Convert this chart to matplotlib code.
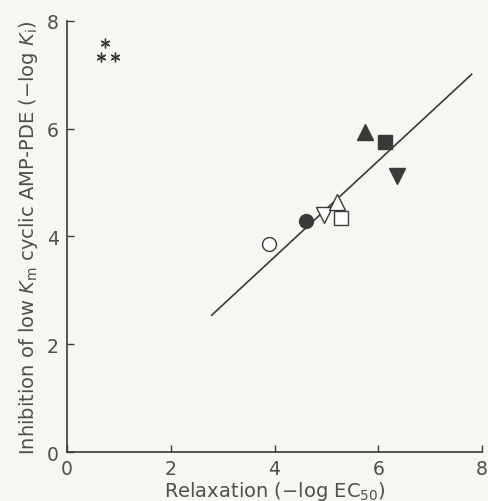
import matplotlib
matplotlib.use('Agg')
import matplotlib.pyplot as plt

plt.rcParams['font.family'] = ['DejaVu Sans']
plt.rcParams['mathtext.fontset'] = 'dejavusans'

# compuestos: relajacion (-log EC50) vs inhibicion PDE (-log Ki)
relajacion = [3.89, 4.61, 4.95, 5.28, 5.20, 5.74, 6.13, 6.36]
inhibicion = [3.86, 4.28, 4.40, 4.34, 4.64, 5.94, 5.75, 5.12]
marcadores = ['o', 'o', 'v', 's', '^', '^', 's', 'v']
rellenos = [False, True, False, False, False, True, True, True]

# asteriscos arriba a la izquierda (fuera de escala)
ast_x = [0.73, 0.65, 0.92]
ast_y = [7.60, 7.33, 7.33]

# recta de regresion
recta_x = [2.79, 7.80]
recta_y = [2.54, 7.01]

gris = '#3a3a3a'
texto = '#4e4e4e'
fondo = '#f7f7f2'

fig = plt.figure(figsize=(4.88, 5.02), dpi=100, facecolor=fondo)
ax = fig.add_axes([0.1373, 0.0976, 0.8504, 0.8586])
ax.set_facecolor(fondo)

ax.plot(recta_x, recta_y, color=gris, lw=1.2, zorder=2)

for x, y, m, r in zip(relajacion, inhibicion, marcadores, rellenos):
    ms = 11 if m in ('^', 'v') else 10
    ax.plot(x, y, marker=m, ms=ms, mfc=gris if r else 'white',
            mec=gris, mew=1.0, ls='none', zorder=3)

ax.plot(ast_x, ast_y, marker=(6, 2, 0), ms=7, mew=1.0, color=gris, ls='none')

ax.set_xlim(0, 8)
ax.set_ylim(0, 8)
ax.set_xticks([0, 2, 4, 6, 8])
ax.set_yticks([0, 2, 4, 6, 8])
ax.tick_params(direction='in', length=5, width=1, colors=gris,
               labelcolor=texto, labelsize=13.5)
ax.tick_params(axis='x', pad=5)
ax.tick_params(axis='y', pad=6)

for lado in ['top', 'right']:
    ax.spines[lado].set_visible(False)
for lado in ['left', 'bottom']:
    ax.spines[lado].set_color(gris)
    ax.spines[lado].set_linewidth(1.2)

ax.set_xlabel('Relaxation ($-$log EC$_{50}$)', fontsize=14, color=texto, labelpad=1)
ax.set_ylabel('Inhibition of low $K_{\\mathrm{m}}$ cyclic AMP-PDE ($-$log $K_{\\mathrm{i}}$)',
              fontsize=14, color=texto, labelpad=5)

fig.savefig('out.png', dpi=100, facecolor=fondo)
